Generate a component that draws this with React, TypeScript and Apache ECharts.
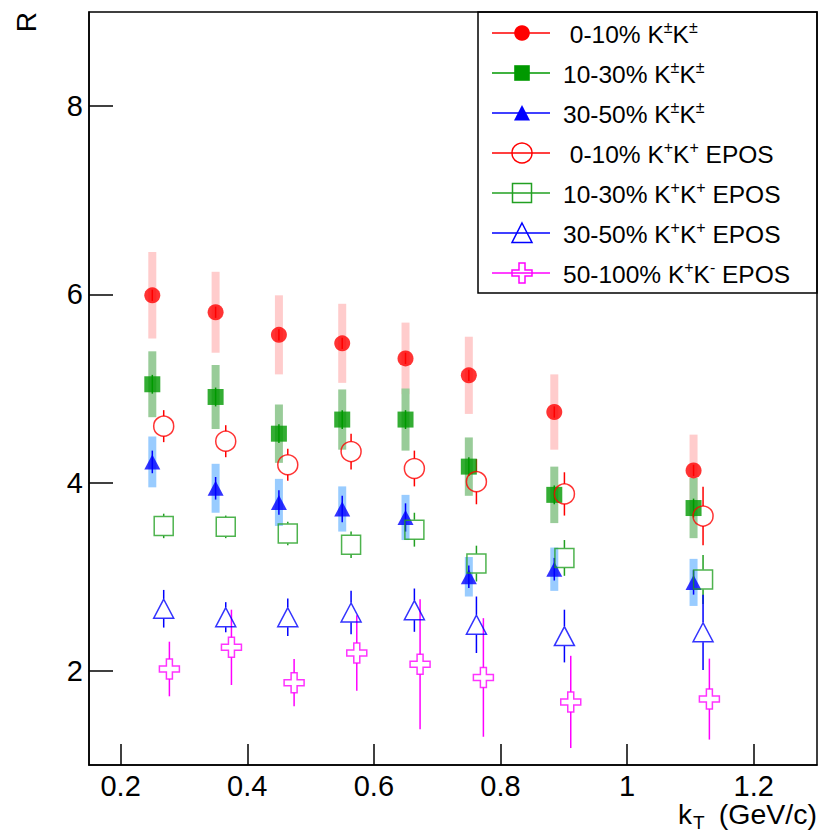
import React, { useEffect, useRef } from 'react';
import * as echarts from 'echarts';

const FONT = '"Liberation Sans", Arial, Helvetica, sans-serif';

// kT bin positions (GeV/c)
const kT = [0.25, 0.35, 0.45, 0.55, 0.65, 0.75, 0.885, 1.105];
const kTEpos = [0.268, 0.366, 0.464, 0.564, 0.664, 0.762, 0.901, 1.12];
const kTEpos50 = [0.277, 0.375, 0.474, 0.573, 0.673, 0.773, 0.911, 1.13];

// Data K±K±
const R_0_10 = [5.99, 5.81, 5.57, 5.48, 5.32, 5.14, 4.75, 4.13];
const sys_0_10 = [0.46, 0.43, 0.42, 0.42, 0.38, 0.41, 0.40, 0.38];
const stat_0_10 = [0.06, 0.06, 0.06, 0.06, 0.06, 0.06, 0.06, 0.06];

const R_10_30 = [5.045, 4.91, 4.52, 4.67, 4.67, 4.17, 3.87, 3.73];
const sys_10_30 = [0.35, 0.34, 0.31, 0.32, 0.33, 0.31, 0.30, 0.32];
const stat_10_30 = [0.1, 0.1, 0.1, 0.1, 0.1, 0.1, 0.1, 0.1];

const R_30_50 = [4.22, 3.94, 3.79, 3.72, 3.63, 3.0, 3.08, 2.94];
const sys_30_50 = [0.27, 0.26, 0.25, 0.24, 0.24, 0.21, 0.23, 0.25];
const stat_30_50 = [0.12, 0.12, 0.13, 0.14, 0.15, 0.12, 0.12, 0.13];

// EPOS
const E_0_10 = [4.6, 4.44, 4.19, 4.33, 4.15, 4.01, 3.88, 3.645];
const eErr_0_10 = [0.17, 0.17, 0.17, 0.19, 0.19, 0.24, 0.23, 0.31];
const E_10_30 = [3.54, 3.53, 3.46, 3.34, 3.5, 3.14, 3.2, 2.97];
const eErr_10_30 = [0.13, 0.12, 0.125, 0.14, 0.18, 0.19, 0.19, 0.26];
const E_30_50 = [2.66, 2.57, 2.57, 2.62, 2.645, 2.49, 2.37, 2.41];
const eErr_30_50 = [0.2, 0.16, 0.2, 0.23, 0.23, 0.3, 0.28, 0.4];
const E_50_100 = [2.02, 2.25, 1.875, 2.19, 2.07, 1.93, 1.67, 1.7];
const eErr_50_100 = [0.29, 0.4, 0.25, 0.4, 0.69, 0.63, 0.49, 0.43];

const xTicks = [0.2, 0.4, 0.6, 0.8, 1.0, 1.2];
const yTicks = [2, 4, 6, 8];

const legendLabels = [
  '{t| 0-10% K}{s|±}{t|K}{s|±}',
  '{t|10-30% K}{s|±}{t|K}{s|±}',
  '{t|30-50% K}{s|±}{t|K}{s|±}',
  '{t| 0-10% K}{s|+}{t|K}{s|+}{t| EPOS}',
  '{t|10-30% K}{s|+}{t|K}{s|+}{t| EPOS}',
  '{t|30-50% K}{s|+}{t|K}{s|+}{t| EPOS}',
  '{t|50-100% K}{s|+}{t|K}{s|-}{t| EPOS}',
];

const RED = '#ff0000';
const GREEN = '#009900';
const GREEN_OPEN = '#22a022';
const BLUE = '#0000ff';
const MAGENTA = '#ff00ff';

const CROSS = 'path://M7,0H13V7H20V13H13V20H7V13H0V7H7Z';

function dataBand(x: number[], y: number[], sys: number[], stat: number[], band: string, line: string) {
  return {
    type: 'custom',
    silent: true,
    data: x.map((v, i) => [v, y[i], sys[i], stat[i]]),
    encode: { x: 0, y: 1 },
    renderItem: (params: any, api: any) => {
      const xv = api.value(0), yv = api.value(1), s = api.value(2), st = api.value(3);
      const c = api.coord([xv, yv]);
      const t = api.coord([xv, yv + s]);
      const b = api.coord([xv, yv - s]);
      const ts = api.coord([xv, yv + st]);
      const bs = api.coord([xv, yv - st]);
      return {
        type: 'group',
        children: [
          { type: 'rect', shape: { x: c[0] - 4, y: t[1], width: 8, height: b[1] - t[1] }, style: { fill: band } },
          { type: 'line', shape: { x1: c[0], y1: ts[1], x2: c[0], y2: bs[1] }, style: { stroke: line, lineWidth: 1.5 } },
        ],
      };
    },
  };
}

function eposErr(x: number[], y: number[], err: number[], color: string, half: number) {
  return {
    type: 'custom',
    silent: true,
    data: x.map((v, i) => [v, y[i], err[i]]),
    encode: { x: 0, y: 1 },
    renderItem: (params: any, api: any) => {
      const xv = api.value(0), yv = api.value(1), e = api.value(2);
      const c = api.coord([xv, yv]);
      const t = api.coord([xv, yv + e]);
      const b = api.coord([xv, yv - e]);
      const children: any[] = [];
      if (c[1] - half > t[1]) {
        children.push({ type: 'line', shape: { x1: c[0], y1: t[1], x2: c[0], y2: c[1] - half }, style: { stroke: color, lineWidth: 1.5 } });
      }
      if (b[1] > c[1] + half) {
        children.push({ type: 'line', shape: { x1: c[0], y1: c[1] + half, x2: c[0], y2: b[1] }, style: { stroke: color, lineWidth: 1.5 } });
      }
      return { type: 'group', children };
    },
  };
}

function markers(x: number[], y: number[], symbol: string, size: any, filled: boolean, color: string) {
  return {
    type: 'scatter',
    silent: true,
    data: x.map((v, i) => [v, y[i]]),
    symbol,
    symbolSize: size,
    itemStyle: filled
      ? { color, borderWidth: 0 }
      : { color: 'rgba(0,0,0,0)', borderColor: color, borderWidth: 1.5 },
    emphasis: { disabled: true },
  };
}

function legendGraphics() {
  const els: any[] = [];
  els.push({
    type: 'rect',
    shape: { x: 478, y: 12, width: 339, height: 281 },
    style: { fill: 'none', stroke: '#000', lineWidth: 1.5 },
    z: 100,
  });
  const colors = [RED, GREEN, BLUE, RED, GREEN_OPEN, BLUE, MAGENTA];
  legendLabels.forEach((lab, i) => {
    const cy = 33 + 40 * i;
    const col = colors[i];
    const open = { fill: 'none', stroke: col, lineWidth: 1.5 };
    els.push({ type: 'line', z: 101, shape: { x1: 492, y1: cy, x2: 550, y2: cy }, style: { stroke: col, lineWidth: 1.5 } });
    const mx = 522;
    let m: any = null;
    if (i === 0) m = { type: 'circle', shape: { cx: mx, cy, r: 7.8 }, style: { fill: col } };
    if (i === 1) m = { type: 'rect', shape: { x: mx - 7.8, y: cy - 7.8, width: 15.6, height: 15.6 }, style: { fill: col } };
    if (i === 2) m = { type: 'polygon', shape: { points: [[mx, cy - 8], [mx + 8, cy + 7.5], [mx - 8, cy + 7.5]] }, style: { fill: col } };
    if (i === 3) m = { type: 'circle', shape: { cx: mx, cy, r: 10 }, style: open };
    if (i === 4) m = { type: 'rect', shape: { x: mx - 9.5, y: cy - 9.5, width: 19, height: 19 }, style: open };
    if (i === 5) m = { type: 'polygon', shape: { points: [[mx, cy - 10], [mx + 10, cy + 9.5], [mx - 10, cy + 9.5]] }, style: open };
    if (i === 6)
      m = {
        type: 'polygon',
        shape: {
          points: [[-3, -10], [3, -10], [3, -3], [10, -3], [10, 3], [3, 3], [3, 10], [-3, 10], [-3, 3], [-10, 3], [-10, -3], [-3, -3]].map(
            (p) => [mx + p[0], cy + p[1]]
          ),
        },
        style: open,
      };
    m.z = 102;
    els.push(m);
    els.push({
      type: 'text',
      x: 563,
      y: cy,
      z: 102,
      style: {
        text: lab,
        verticalAlign: 'middle',
        align: 'left',
        rich: {
          t: { fontSize: 24.5, fontFamily: FONT, fill: '#000', lineHeight: 27, verticalAlign: 'bottom' },
          s: { fontSize: 16, fontFamily: FONT, fill: '#000', lineHeight: 15, verticalAlign: 'top' },
        },
      },
    });
  });
  return els;
}

export default function App() {
  const ref = useRef<HTMLDivElement>(null);
  useEffect(() => {
    document.body.style.margin = '0';
    if (!ref.current) return;
    const chart = echarts.init(ref.current, undefined, { renderer: 'svg' });
    const fmt = (v: number) => String(Number(v.toFixed(2)));
    chart.setOption({
      animation: false,
      backgroundColor: '#fff',
      grid: {
        left: 89,
        top: 12,
        width: 728,
        height: 753,
        show: true,
        borderColor: '#000',
        borderWidth: 1.5,
        backgroundColor: 'transparent',
      },
      xAxis: {
        type: 'value',
        min: 0.15,
        max: 1.3,
        axisLine: { show: true, lineStyle: { color: '#000', width: 1.5 } },
        axisTick: { show: true, inside: true, length: 21, customValues: xTicks, lineStyle: { color: '#000', width: 1.5 } },
        axisLabel: { customValues: xTicks, formatter: fmt, fontSize: 29, lineHeight: 25, fontFamily: FONT, color: '#000', margin: 8 },
        splitLine: { show: false },
      },
      yAxis: {
        type: 'value',
        min: 1,
        max: 9,
        axisLine: { show: true, lineStyle: { color: '#000', width: 1.5 } },
        axisTick: { show: true, inside: true, length: 24, customValues: yTicks, lineStyle: { color: '#000', width: 1.5 } },
        axisLabel: { customValues: yTicks, formatter: fmt, fontSize: 29, fontFamily: FONT, color: '#000', margin: 6 },
        splitLine: { show: false },
      },
      series: [
        dataBand(kT, R_0_10, sys_0_10, stat_0_10, '#ffcccc', RED),
        dataBand(kT, R_10_30, sys_10_30, stat_10_30, '#99cc99', GREEN),
        dataBand(kT, R_30_50, sys_30_50, stat_30_50, '#99ccff', BLUE),
        markers(kT, R_0_10, 'circle', 16, true, RED),
        markers(kT, R_10_30, 'rect', 16, true, GREEN),
        markers(kT, R_30_50, 'triangle', [16, 15], true, BLUE),
        eposErr(kTEpos, E_0_10, eErr_0_10, RED, 10),
        eposErr(kTEpos, E_10_30, eErr_10_30, GREEN_OPEN, 10),
        eposErr(kTEpos, E_30_50, eErr_30_50, BLUE, 10),
        eposErr(kTEpos50, E_50_100, eErr_50_100, MAGENTA, 10),
        markers(kTEpos, E_0_10, 'circle', 20, false, RED),
        markers(kTEpos, E_10_30, 'rect', 19, false, GREEN_OPEN),
        markers(kTEpos, E_30_50, 'triangle', [20, 19], false, BLUE),
        markers(kTEpos50, E_50_100, CROSS, 20, false, MAGENTA),
      ],
      graphic: [
        ...legendGraphics(),
        {
          type: 'text',
          x: 26,
          y: 12,
          rotation: Math.PI / 2,
          style: { text: 'R', fontSize: 28, fontFamily: FONT, fill: '#000', align: 'right', verticalAlign: 'middle' },
        },
        {
          type: 'text',
          x: 678,
          y: 814,
          style: { text: 'k', fontSize: 28, lineHeight: 24, fontFamily: FONT, fill: '#000', align: 'left', verticalAlign: 'middle' },
        },
        {
          type: 'text',
          x: 693,
          y: 822,
          style: { text: 'T', fontSize: 19, lineHeight: 17, fontFamily: FONT, fill: '#000', align: 'left', verticalAlign: 'middle' },
        },
        {
          type: 'text',
          x: 817,
          y: 814,
          style: { text: '(GeV/c)', fontSize: 28.5, lineHeight: 24, fontFamily: FONT, fill: '#000', align: 'right', verticalAlign: 'middle' },
        },
      ],
    });
    return () => chart.dispose();
  }, []);
  return <div ref={ref} style={{ width: 819, height: 832, position: 'absolute', left: 0, top: 0 }} />;
}
